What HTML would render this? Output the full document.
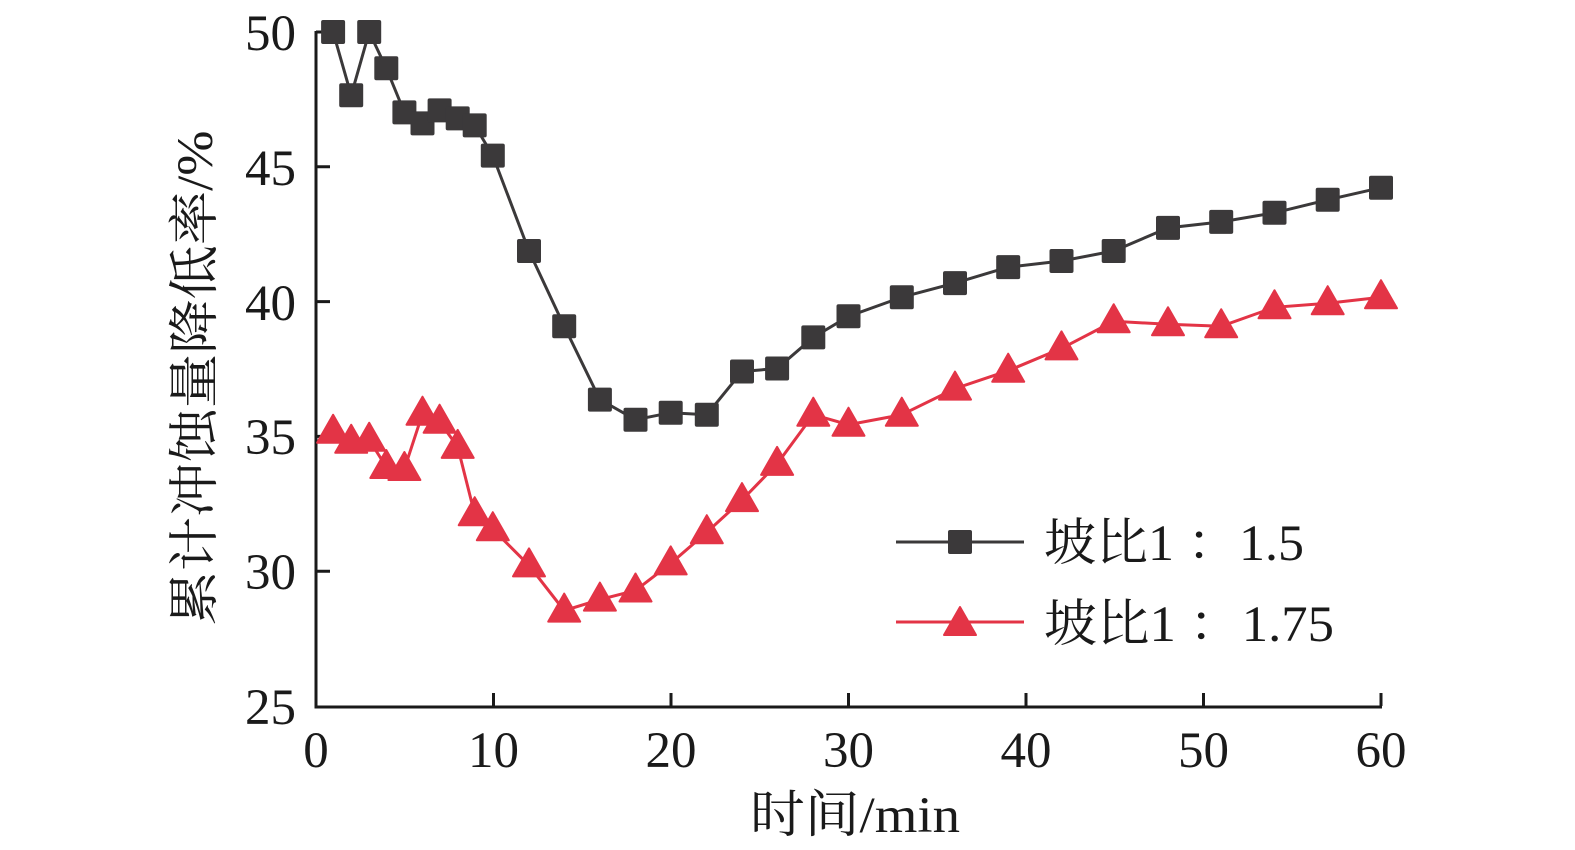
<!DOCTYPE html>
<html><head><meta charset="utf-8"><style>html,body{margin:0;padding:0;background:#fff;overflow:hidden}svg{display:block}</style></head><body>
<svg width="1575" height="850" xmlns="http://www.w3.org/2000/svg" font-family="Liberation Serif, Noto Serif CJK SC, serif">
<defs>
<rect id="sq" x="-12" y="-12" width="24" height="24" rx="2" fill="#3b393a"/>
<polygon id="tr" points="0,-17 16,11 -16,11" fill="#e33446" stroke="#e33446" stroke-width="2" stroke-linejoin="round"/>
</defs>
<g stroke="#1a1a1a" stroke-width="3" fill="none">
<path d="M316,31 V707 H1382"/>
<path d="M316,32 h14 M316,166.8 h14 M316,301.6 h14 M316,436.4 h14 M316,571.2 h14"/>
<path d="M493.5,706 v-13 M671,706 v-13 M848.5,706 v-13 M1026,706 v-13 M1203.5,706 v-13 M1381,706 v-13"/>
</g>
<g font-size="51" fill="#1a1a1a" text-anchor="end">
<text x="296" y="50">50</text><text x="296" y="185">45</text><text x="296" y="320">40</text><text x="296" y="454">35</text><text x="296" y="589">30</text><text x="296" y="724">25</text>
</g>
<g font-size="51" fill="#1a1a1a" text-anchor="middle">
<text x="316" y="767">0</text><text x="493.5" y="767">10</text><text x="671" y="767">20</text><text x="848.5" y="767">30</text><text x="1026" y="767">40</text><text x="1203.5" y="767">50</text><text x="1381" y="767">60</text>
<text x="855" y="832" textLength="210" lengthAdjust="spacingAndGlyphs">时间/min</text>
<text transform="translate(212,378) rotate(-90)" textLength="495" lengthAdjust="spacingAndGlyphs">累计冲蚀量降低率/%</text>
</g>
<polyline fill="none" stroke="#3b393a" stroke-width="3" points="333.1,32 351.2,95.3 369.2,32 386.3,68.2 404.4,112.4 422.5,123.4 439.6,110.4 457.7,118.4 474.7,125.4 492.8,155.6 529,251 564.2,326.3 599.9,399.6 635.5,419.7 670.7,412.7 706.8,414.7 742,371.5 777.1,368.5 813.3,337.4 848.5,316.3 901.8,297.2 955,283.1 1008.2,267.1 1061.5,261 1113.7,251 1168,227.9 1221.2,221.9 1274.5,212.8 1327.7,199.8 1381,187.7"/>
<polyline fill="none" stroke="#e33446" stroke-width="3" points="333.1,431.8 351.2,441.8 369.2,439.8 386.3,467 404.4,469 422.5,413.7 439.6,421.7 457.7,446.9 474.7,514.2 492.8,529.2 529,565.4 564.2,610.6 599.9,599.6 635.5,590.5 670.7,563.4 706.8,532.2 742,500.1 777.1,463.9 813.3,414.7 848.5,424.7 901.8,414.7 955,388.6 1008.2,370.7 1061.5,348.4 1113.7,321.3 1168,324.3 1221.2,326.3 1274.5,307.3 1327.7,303.2 1381,297.2"/>
<g>
<use href="#sq" x="333.1" y="32"/><use href="#sq" x="351.2" y="95.3"/><use href="#sq" x="369.2" y="32"/><use href="#sq" x="386.3" y="68.2"/><use href="#sq" x="404.4" y="112.4"/><use href="#sq" x="422.5" y="123.4"/><use href="#sq" x="439.6" y="110.4"/><use href="#sq" x="457.7" y="118.4"/><use href="#sq" x="474.7" y="125.4"/><use href="#sq" x="492.8" y="155.6"/><use href="#sq" x="529" y="251"/><use href="#sq" x="564.2" y="326.3"/><use href="#sq" x="599.9" y="399.6"/><use href="#sq" x="635.5" y="419.7"/><use href="#sq" x="670.7" y="412.7"/><use href="#sq" x="706.8" y="414.7"/><use href="#sq" x="742" y="371.5"/><use href="#sq" x="777.1" y="368.5"/><use href="#sq" x="813.3" y="337.4"/><use href="#sq" x="848.5" y="316.3"/><use href="#sq" x="901.8" y="297.2"/><use href="#sq" x="955" y="283.1"/><use href="#sq" x="1008.2" y="267.1"/><use href="#sq" x="1061.5" y="261"/><use href="#sq" x="1113.7" y="251"/><use href="#sq" x="1168" y="227.9"/><use href="#sq" x="1221.2" y="221.9"/><use href="#sq" x="1274.5" y="212.8"/><use href="#sq" x="1327.7" y="199.8"/><use href="#sq" x="1381" y="187.7"/>
</g>
<g>
<use href="#tr" x="333.1" y="431.8"/><use href="#tr" x="351.2" y="441.8"/><use href="#tr" x="369.2" y="439.8"/><use href="#tr" x="386.3" y="467"/><use href="#tr" x="404.4" y="469"/><use href="#tr" x="422.5" y="413.7"/><use href="#tr" x="439.6" y="421.7"/><use href="#tr" x="457.7" y="446.9"/><use href="#tr" x="474.7" y="514.2"/><use href="#tr" x="492.8" y="529.2"/><use href="#tr" x="529" y="565.4"/><use href="#tr" x="564.2" y="610.6"/><use href="#tr" x="599.9" y="599.6"/><use href="#tr" x="635.5" y="590.5"/><use href="#tr" x="670.7" y="563.4"/><use href="#tr" x="706.8" y="532.2"/><use href="#tr" x="742" y="500.1"/><use href="#tr" x="777.1" y="463.9"/><use href="#tr" x="813.3" y="414.7"/><use href="#tr" x="848.5" y="424.7"/><use href="#tr" x="901.8" y="414.7"/><use href="#tr" x="955" y="388.6"/><use href="#tr" x="1008.2" y="370.7"/><use href="#tr" x="1061.5" y="348.4"/><use href="#tr" x="1113.7" y="321.3"/><use href="#tr" x="1168" y="324.3"/><use href="#tr" x="1221.2" y="326.3"/><use href="#tr" x="1274.5" y="307.3"/><use href="#tr" x="1327.7" y="303.2"/><use href="#tr" x="1381" y="297.2"/>
</g>
<line x1="896" y1="542" x2="1024" y2="542" stroke="#3b393a" stroke-width="3"/>
<use href="#sq" x="960" y="542"/>
<line x1="896" y1="622" x2="1024" y2="622" stroke="#e33446" stroke-width="3"/>
<use href="#tr" x="960" y="624"/>
<g font-size="51" fill="#1a1a1a">
<text x="1044" y="560" textLength="260" lengthAdjust="spacingAndGlyphs">坡比1 ：1.5</text>
<text x="1044" y="641" textLength="290" lengthAdjust="spacingAndGlyphs">坡比1 ：1.75</text>
</g>
</svg>
</body></html>
